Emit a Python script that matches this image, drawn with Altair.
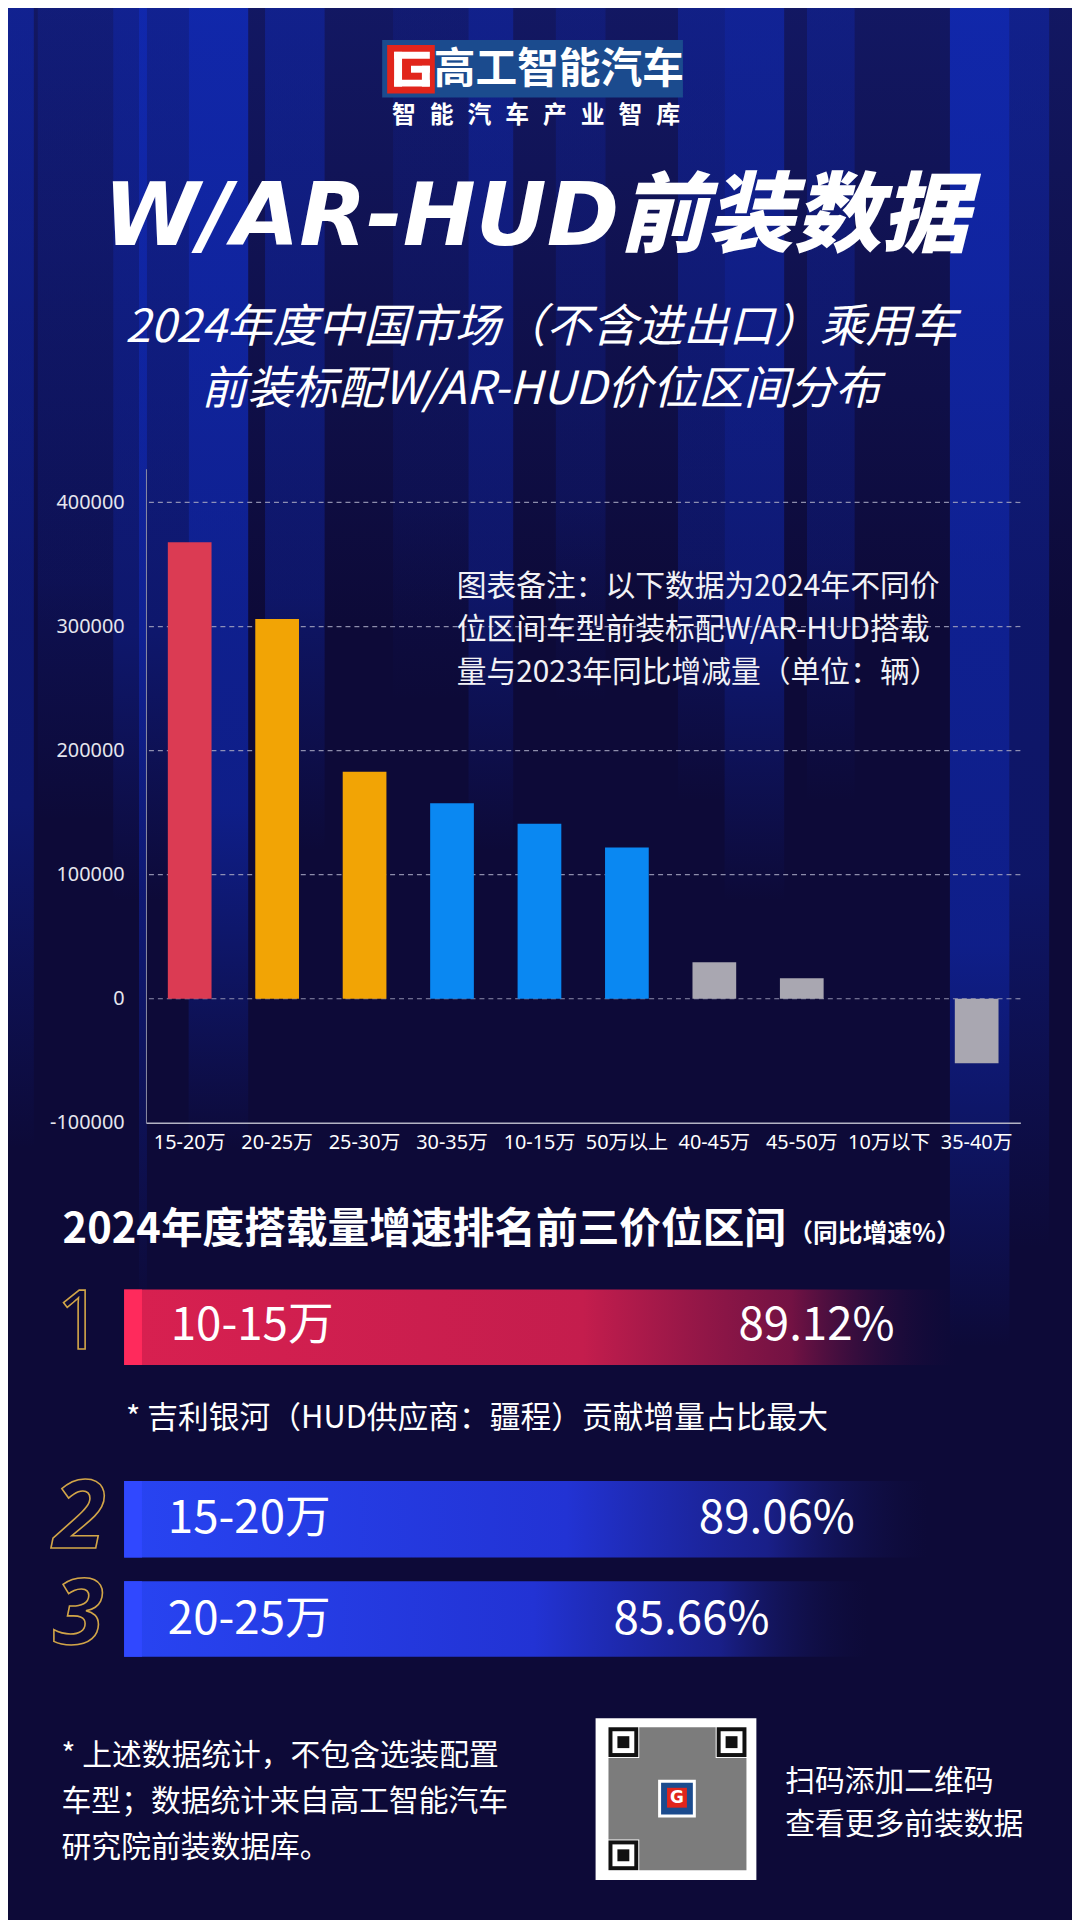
import altair as alt
import pandas as pd

# ---------------- data ----------------
CATEGORIES = ["15-20万", "20-25万", "25-30万", "30-35万", "10-15万",
              "50万以上", "40-45万", "45-50万", "10万以下", "35-40万"]
VOLUMES = [368000, 306000, 183000, 157500, 141000, 122000, 29500, 16500, 0, -52000]
BAR_GROUP = ["top1", "top2", "top2", "mid", "mid", "mid", "low", "low", "low", "low"]
GROUP_DOMAIN = ["top1", "top2", "mid", "low"]
GROUP_RANGE = ["#DB3B53", "#F2A405", "#0A88F2", "#A9A7B1"]
Y_TICKS = [-100000, 0, 100000, 200000, 300000, 400000]
GRID_TICKS = [0, 100000, 200000, 300000, 400000]

TITLE = "W/AR-HUD前装数据"
SUBTITLE = ["2024年度中国市场（不含进出口）乘用车", "前装标配W/AR-HUD价位区间分布"]
LOGO_NAME = "高工智能汽车"
LOGO_TAGLINE = list("智能汽车产业智库")
NOTE_LINES = ["图表备注：以下数据为2024年不同价",
              "位区间车型前装标配W/AR-HUD搭载",
              "量与2023年同比增减量（单位：辆）"]
RANK_HEADING = "2024年度搭载量增速排名前三价位区间"
RANK_HEADING_UNIT = "（同比增速%）"
RANK_NUMS = ["1", "2", "3"]
RANK_RANGES = ["10-15万", "15-20万", "20-25万"]
RANK_GROWTH = [89.12, 89.06, 85.66]
RANK_REMARK = "* 吉利银河（HUD供应商：疆程）贡献增量占比最大"
FOOTER_LINES = ["* 上述数据统计，不包含选装配置",
                "车型；数据统计来自高工智能汽车",
                "研究院前装数据库。"]
QR_LINES = ["扫码添加二维码", "查看更多前装数据"]

# ---------------- layout ----------------
OX, OY = 147, 465          # plot origin on the page
PW, PH = 881, 659          # plot size
CJK = "Noto Sans CJK SC"
BG = "#0D0A38"


def X(px):
    return px - OX


def Y(py):
    return py - OY


ONE = pd.DataFrame({"k": [0]})


def rect(x0, x1, y0, y1, fill, **kw):
    return alt.Chart(ONE).mark_rect(fill=fill, **kw).encode(
        x=alt.value(X(x0)), x2=alt.value(X(x1)),
        y=alt.value(Y(y0)), y2=alt.value(Y(y1)))


def text(s, px, py, size, color="#FFFFFF", align="left", weight="normal",
         style="normal", font=CJK, baseline="middle", **kw):
    return alt.Chart(pd.DataFrame({"t": [s]})).mark_text(
        align=align, baseline=baseline, fontSize=size, fontWeight=weight,
        fontStyle=style, font=font, fill=color, **kw).encode(
        x=alt.value(X(px)), y=alt.value(Y(py)), text="t:N")


def grad(stops, vertical=False):
    return alt.LinearGradient(
        gradient="linear",
        stops=[alt.GradientStop(offset=o, color=c) for o, c in stops],
        x1=0, y1=0, x2=0 if vertical else 1, y2=1 if vertical else 0)


layers = []

# background glow and stripes
layers.append(rect(0, 1080, 0, 620, grad([(0, "rgba(25,40,150,0.45)"), (1, "rgba(25,40,150,0)")], True)))
STRIPES = [(0, 34, 1150, 0.45), (38, 114, 820, 0.22), (114, 190, 900, 0.45),
           (190, 250, 1150, 0.7), (267, 327, 850, 0.4), (396, 472, 700, 0.15),
           (472, 517, 850, 0.4), (560, 610, 700, 0.22), (683, 730, 800, 0.35),
           (730, 790, 900, 0.5), (813, 861, 800, 0.3), (957, 1017, 1350, 0.7),
           (1017, 1057, 1250, 0.4), (140, 148, 1320, 0.5)]
for x0, x1, yend, a in STRIPES:
    layers.append(rect(x0, x1, 0, yend, grad([
        (0, f"rgba(16,46,200,{a})"), (0.7, f"rgba(16,46,200,{a * 0.8:.2f})"),
        (1, "rgba(16,46,200,0)")], True)))

# bar chart
yscale = alt.Scale(domain=[-100000, 427200], nice=False, zero=False)
yaxis = alt.Axis(values=Y_TICKS, labelExpr="'' + datum.value", labelFontSize=20,
                 labelFont="Noto Sans", labelColor="#E6E6EE", labelPadding=22,
                 ticks=False, domainColor="#8C8CA2", grid=False, title="", zindex=1)
xaxis = alt.Axis(labelAngle=0, labelFontSize=20, labelFont="Noto Sans, Noto Sans CJK SC",
                 labelColor="#FFFFFF", labelPadding=10, ticks=False,
                 domainColor="#B4B4C4", domainWidth=1.5, grid=False, title="", zindex=1)

grid_df = pd.DataFrame({"val": GRID_TICKS})
layers.append(alt.Chart(grid_df).mark_rule(strokeDash=[5, 4], color="#A4A4C0",
                                           strokeWidth=1.2, opacity=0.85).encode(
    y=alt.Y("val:Q", scale=yscale, axis=yaxis)))

bar_df = pd.DataFrame({"cat": CATEGORIES, "val": VOLUMES, "grp": BAR_GROUP})
layers.append(alt.Chart(bar_df).mark_bar().encode(
    x=alt.X("cat:N", sort=CATEGORIES,
            scale=alt.Scale(paddingInner=0.5, paddingOuter=0.25), axis=xaxis),
    y=alt.Y("val:Q", scale=yscale, axis=yaxis),
    color=alt.Color("grp:N", scale=alt.Scale(domain=GROUP_DOMAIN, range=GROUP_RANGE))))

# chart note
for i, line in enumerate(NOTE_LINES):
    layers.append(text(line, 460, 584 + i * 43.5, 30, color="#F2F2F6"))

# logo
layers.append(rect(385, 688, 33, 91, "#1B4B8E"))
layers.append(rect(390, 438, 38, 87, "#E1251B"))
for gx0, gx1, gy0, gy1 in [(397, 433, 45, 52), (397, 405, 45, 80), (397, 433, 73, 80),
                           (425, 433, 59, 80), (414, 433, 59, 66)]:
    layers.append(rect(gx0, gx1, gy0, gy1, "#FFFFFF"))
layers.append(text(LOGO_NAME, 563, 63, 42, align="center", weight="bold"))
for i, ch in enumerate(LOGO_TAGLINE):
    layers.append(text(ch, 407 + i * 38, 110, 24, align="center", weight="bold"))

# title and subtitle
layers.append(text(TITLE, 540, 214, 88, align="center", weight=900, style="italic",
                   font="DejaVu Sans, Noto Sans CJK SC"))
for i, line in enumerate(SUBTITLE):
    layers.append(text(line, 545, 323 + i * 63, 46, align="center", weight="normal", style="italic"))

# ranking section
layers.append(text(RANK_HEADING, 63, 1232, 42, weight="bold"))
layers.append(text(RANK_HEADING_UNIT, 794, 1236, 25, weight="bold"))

RANK_BOX = [(1292, 1368, 965), (1485, 1562, 935), (1586, 1662, 875)]
RED_GRAD = grad([(0, "#D82050"), (0.55, "#C41D4D"), (0.8, "rgba(140,20,70,0.8)"),
                 (1, "rgba(30,10,60,0)")])
BLUE_GRAD = grad([(0, "#2844F2"), (0.55, "#2233D4"), (0.8, "rgba(30,40,170,0.7)"),
                  (1, "rgba(20,20,80,0)")])
for i, (y0, y1, xend) in enumerate(RANK_BOX):
    layers.append(rect(125, xend, y0, y1, RED_GRAD if i == 0 else BLUE_GRAD))
    layers.append(rect(125, 143, y0, y1, "#FF2A5C" if i == 0 else "#3048FF"))

RANK_LABEL_X = [172, 169, 169]
RANK_VALUE_X = [744, 704, 618]
RANK_Y = [1329, 1523, 1625]
for i in range(3):
    layers.append(text(RANK_RANGES[i], RANK_LABEL_X[i], RANK_Y[i], 46))
    layers.append(text(f"{RANK_GROWTH[i]:.2f}%", RANK_VALUE_X[i], RANK_Y[i], 46))

NUM_POS = [(80, 1327, 82, "normal", "normal"), (80, 1523, 96, "bold", "italic"),
           (79, 1621, 92, "bold", "italic")]
for s, (nx, ny, ns, nw, nst) in zip(RANK_NUMS, NUM_POS):
    layers.append(text(s, nx, ny, ns, color="transparent", align="center", weight=nw,
                       style=nst, font="Noto Sans", stroke="#D1A548", strokeWidth=1.6))

layers.append(text(RANK_REMARK, 127, 1422, 31))

# footer
for i, line in enumerate(FOOTER_LINES):
    layers.append(text(line, 62, 1762 + i * 46.5, 30))
for i, line in enumerate(QR_LINES):
    layers.append(text(line, 791, 1788 + i * 44, 30))

# QR block
layers.append(rect(600, 762, 1724, 1887, "#FFFFFF"))
layers.append(rect(613, 752, 1733, 1877, "#7C7C7C"))
for fx, fy in [(613, 1733), (722, 1733), (613, 1847)]:
    layers.append(rect(fx - 1, fx + 31, fy - 1, fy + 31, "#FFFFFF"))
    layers.append(rect(fx, fx + 30, fy, fy + 30, "#111111"))
    layers.append(rect(fx + 4, fx + 26, fy + 4, fy + 26, "#FFFFFF"))
    layers.append(rect(fx + 9, fx + 21, fy + 9, fy + 21, "#111111"))
layers.append(rect(663, 701, 1786, 1824, "#FFFFFF"))
layers.append(rect(666, 698, 1789, 1821, "#1B4B8E"))
layers.append(rect(672, 692, 1794, 1814, "#E1251B"))
layers.append(text("G", 682, 1804, 17, align="center", weight="bold", font="DejaVu Sans"))

chart = alt.layer(*layers).properties(
    width=PW, height=PH,
    padding={"left": OX - 8, "top": OY - 8, "right": 1080 - OX - PW, "bottom": 1920 - OY - PH},
    autosize=alt.AutoSizeParams(type="none"),
    background=BG,
).configure_view(strokeWidth=0).configure_legend(disable=True)

chart.save("out.html", embed_options={"renderer": "svg", "actions": False})
